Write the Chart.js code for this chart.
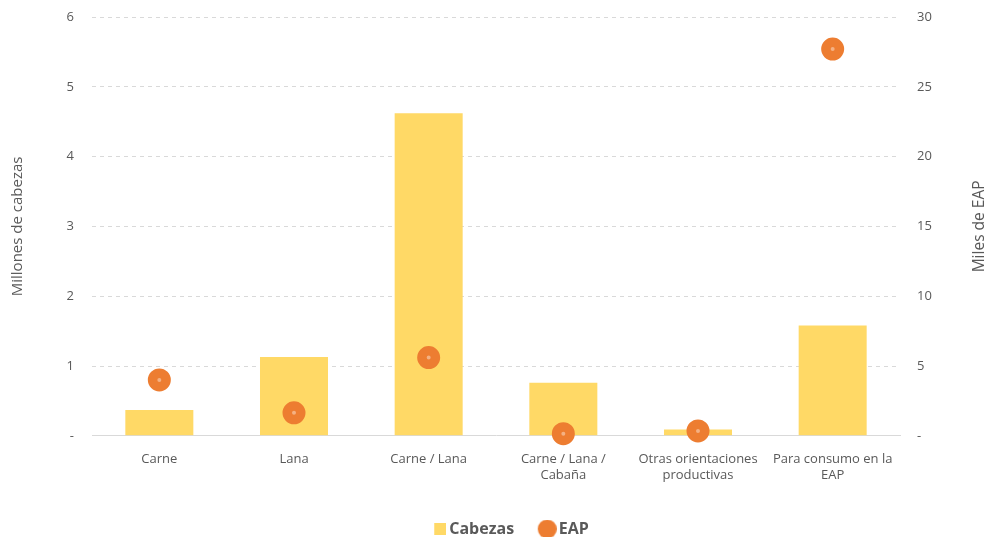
<!DOCTYPE html>
<html>
<head>
<meta charset="utf-8">
<script src="https://cdn.jsdelivr.net/npm/chart.js@4"></script>
<style>
  html, body { margin: 0; padding: 0; background: #fff; }
  #wrap { width: 988px; height: 537px; position: relative; }
</style>
</head>
<body>
<div id="wrap"><canvas id="chart"></canvas></div>
<script>
// datos
const categorias = [
    'Carne',
    'Lana',
    'Carne / Lana',
    ['Carne / Lana /', 'Cabaña'],
    ['Otras orientaciones', 'productivas'],
    ['Para consumo en la', 'EAP']
];
const cabezas = [0.37, 1.13, 4.62, 0.76, 0.09, 1.58];   // millones
const eap = [4.0, 1.65, 5.6, 0.15, 0.35, 27.7];           // miles
const ticksIzq = [0, 1, 2, 3, 4, 5, 6];
const ticksDer = [0, 5, 10, 15, 20, 25, 30];

const gris = '#595959';
const naranja = '#ED7D31';
const amarillo = '#FFD966';
const fuente = 'Open Sans';

// iconos de la leyenda (la figura va pegada al lado derecho, junto al texto)
function icono(tipo) {
    const c = document.createElement('canvas');
    const s = tipo === 'rect' ? 12 : 19;
    const w = tipo === 'rect' ? 26 : 28;
    c.width = w; c.height = s;
    const g = c.getContext('2d');
    if (tipo === 'rect') {
        g.fillStyle = amarillo;
        g.fillRect(w - s, 0, s, s);
    } else {
        g.fillStyle = naranja;
        g.beginPath();
        g.arc(w - s / 2, s / 2, s / 2, 0, Math.PI * 2);
        g.fill();
    }
    return c;
}
const iconoBarra = icono('rect');
const iconoPunto = icono('circle');

// títulos de los ejes, los dos girados hacia arriba
const titulosEjes = {
    id: 'titulosEjes',
    afterDraw(chart) {
        const g = chart.ctx;
        const area = chart.chartArea;
        const medio = (area.top + area.bottom) / 2;
        g.save();
        g.fillStyle = gris;
        g.textAlign = 'center';
        g.textBaseline = 'middle';
        [[18, 'Millones de cabezas', 15], [980, 'Miles de EAP', 15.5]].forEach(function(t) {
            g.save();
            g.font = t[2] + 'px "' + fuente + '"';
            g.translate(t[0], medio);
            g.rotate(-Math.PI / 2);
            g.fillText(t[1], 0, 0);
            g.restore();
        });
        g.restore();
    }
};

const ctx = document.getElementById('chart').getContext('2d');
new Chart(ctx, {
    data: {
        labels: categorias,
        datasets: [
            {
                type: 'bar',
                label: 'Cabezas    ',
                data: cabezas,
                yAxisID: 'y',
                backgroundColor: amarillo,
                categoryPercentage: 1,
                barPercentage: 0.505,
                order: 1
            },
            {
                type: 'scatter',
                label: 'EAP',
                data: eap,
                yAxisID: 'y2',
                pointRadius: 6.75,
                pointHoverRadius: 6.75,
                borderWidth: 9.5,
                borderColor: naranja,
                backgroundColor: '#F4B183',
                clip: false,
                order: 0
            }
        ]
    },
    options: {
        responsive: true,
        maintainAspectRatio: false,
        animation: false,
        layout: { autoPadding: false, padding: { left: 26, right: 0, top: 17, bottom: -10 } },
        plugins: {
            legend: {
                position: 'bottom',
                labels: {
                    color: gris,
                    font: { family: fuente, size: 16, weight: 'bold' },
                    usePointStyle: true,
                    boxHeight: 14,
                    padding: 4,
                    generateLabels: function(chart) {
                        return chart.data.datasets.map(function(ds, i) {
                            return {
                                text: ds.label,
                                fillStyle: ds.type === 'bar' ? amarillo : naranja,
                                strokeStyle: ds.type === 'bar' ? amarillo : naranja,
                                lineWidth: 0,
                                pointStyle: ds.type === 'bar' ? iconoBarra : iconoPunto,
                                fontColor: gris,
                                datasetIndex: i
                            };
                        });
                    }
                }
            },
            tooltip: { enabled: false }
        },
        scales: {
            x: {
                type: 'category',
                offset: true,
                grid: { display: false },
                border: { color: '#D9D9D9' },
                afterFit: function(axis) { axis.height += 26; },
                ticks: {
                    color: gris,
                    padding: 8,
                    font: { family: fuente, size: 13 },
                    maxRotation: 0,
                    autoSkip: false
                }
            },
            y: {
                position: 'left',
                min: 0,
                max: 6,
                afterBuildTicks: function(axis) {
                    axis.ticks = ticksIzq.map(v => ({ value: v }));
                },
                afterFit: function(axis) { axis.width = 66; },
                ticks: {
                    color: gris,
                    padding: 0,
                    font: { family: fuente, size: 13 },
                    callback: v => v === 0 ? '-' : v
                },
                grid: {
                    color: '#D9D9D9',
                    drawTicks: true,
                    tickLength: 18,
                    tickColor: 'rgba(0,0,0,0)'
                },
                border: { display: false, dash: [4, 4] }
            },
            y2: {
                position: 'right',
                min: 0,
                max: 30,
                afterBuildTicks: function(axis) {
                    axis.ticks = ticksDer.map(v => ({ value: v }));
                },
                afterFit: function(axis) { axis.width = 88; },
                ticks: {
                    color: gris,
                    padding: 0,
                    font: { family: fuente, size: 13 },
                    callback: v => v === 0 ? '-' : v
                },
                grid: {
                    display: true,
                    drawOnChartArea: false,
                    drawTicks: true,
                    tickLength: 17,
                    tickColor: 'rgba(0,0,0,0)'
                },
                border: { display: false }
            }
        }
    },
    plugins: [titulosEjes]
});
</script>
</body>
</html>
